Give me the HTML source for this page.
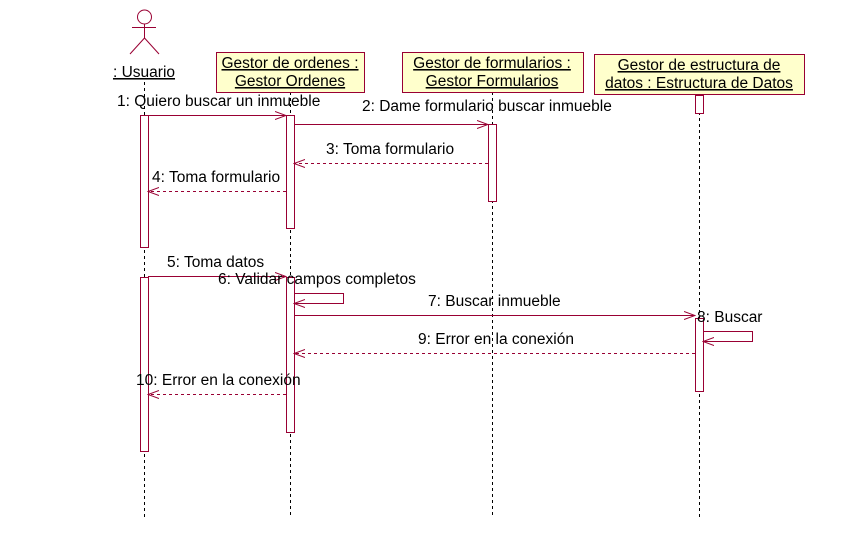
<!DOCTYPE html>
<html><head><meta charset="utf-8"><style>
html,body{margin:0;padding:0;background:#fff;}
svg text{font-family:"Liberation Sans",sans-serif;font-size:15.5px;fill:#000;}
</style></head><body>
<svg width="844" height="542" xmlns="http://www.w3.org/2000/svg">
<defs>
<marker id="a" markerWidth="12" markerHeight="10" refX="11" refY="5" orient="auto" markerUnits="userSpaceOnUse"><path d="M0,1 L11,5 L0,9" fill="none" stroke="#990033" stroke-width="1"/></marker>
</defs>
<g stroke="#000" stroke-dasharray="3,3" stroke-width="1">
<line x1="144.5" y1="82" x2="144.5" y2="517"/>
<line x1="290.5" y1="92" x2="290.5" y2="517"/>
<line x1="492.5" y1="92" x2="492.5" y2="517"/>
<line x1="699.5" y1="94" x2="699.5" y2="517"/>
</g>
<g stroke="#990033" fill="none">
<circle cx="144.5" cy="17" r="7"/>
<line x1="144.5" y1="24" x2="144.5" y2="38"/>
<line x1="132" y1="27.5" x2="156" y2="27.5"/>
<line x1="144.5" y1="38" x2="130" y2="54"/>
<line x1="144.5" y1="38" x2="159" y2="54"/>
</g>
<g stroke="#990033" fill="#ffffcc">
<rect x="216.5" y="52.5" width="148" height="40"/>
<rect x="402.5" y="52.5" width="181" height="40"/>
<rect x="594.5" y="54.5" width="210" height="40"/>
</g>
<g stroke="#990033" fill="#fff">
<rect x="140.5" y="115.5" width="8" height="132"/>
<rect x="140.5" y="277.5" width="8" height="174"/>
<rect x="286.5" y="115.5" width="8" height="113"/>
<rect x="286.5" y="277.5" width="8" height="155"/>
<rect x="488.5" y="124.5" width="8" height="77"/>
<rect x="695.5" y="95.5" width="8" height="18"/>
<rect x="695.5" y="318.5" width="8" height="73"/>
</g>
<g stroke="#990033" fill="none">
<line x1="148" y1="115.5" x2="286" y2="115.5" marker-end="url(#a)"/>
<line x1="294" y1="124.5" x2="488" y2="124.5" marker-end="url(#a)"/>
<line x1="488" y1="163.5" x2="294" y2="163.5" stroke-dasharray="3,3" marker-end="url(#a)"/>
<line x1="286" y1="191.5" x2="148" y2="191.5" stroke-dasharray="3,3" marker-end="url(#a)"/>
<line x1="148" y1="276.5" x2="286" y2="276.5" marker-end="url(#a)"/>
<polyline points="294,293.5 343.5,293.5 343.5,303.5 294,303.5" marker-end="url(#a)"/>
<line x1="294" y1="315.5" x2="695" y2="315.5" marker-end="url(#a)"/>
<polyline points="703,331.5 752.5,331.5 752.5,341.5 703,341.5" marker-end="url(#a)"/>
<line x1="695" y1="353.5" x2="294" y2="353.5" stroke-dasharray="3,3" marker-end="url(#a)"/>
<line x1="286" y1="394.5" x2="148" y2="394.5" stroke-dasharray="3,3" marker-end="url(#a)"/>
</g>
<text x="144" y="77" text-anchor="middle" text-decoration="underline">: Usuario</text>
<text x="290" y="68" text-anchor="middle" text-decoration="underline">Gestor de ordenes :</text>
<text x="290" y="86" text-anchor="middle" text-decoration="underline">Gestor Ordenes</text>
<text x="492" y="68" text-anchor="middle" text-decoration="underline">Gestor de formularios :</text>
<text x="492" y="86" text-anchor="middle" text-decoration="underline">Gestor Formularios</text>
<text x="699" y="70" text-anchor="middle" text-decoration="underline">Gestor de estructura de</text>
<text x="699" y="88" text-anchor="middle" text-decoration="underline">datos : Estructura de Datos</text>
<text x="117" y="106">1: Quiero buscar un inmueble</text>
<text x="362" y="111">2: Dame formulario buscar inmueble</text>
<text x="326" y="154">3: Toma formulario</text>
<text x="152" y="182">4: Toma formulario</text>
<text x="167" y="267">5: Toma datos</text>
<text x="218" y="284">6: Validar campos completos</text>
<text x="428" y="306">7: Buscar inmueble</text>
<text x="697" y="322">8: Buscar</text>
<text x="418" y="344">9: Error en la conexión</text>
<text x="136" y="385">10: Error en la conexión</text>
</svg>
</body></html>
